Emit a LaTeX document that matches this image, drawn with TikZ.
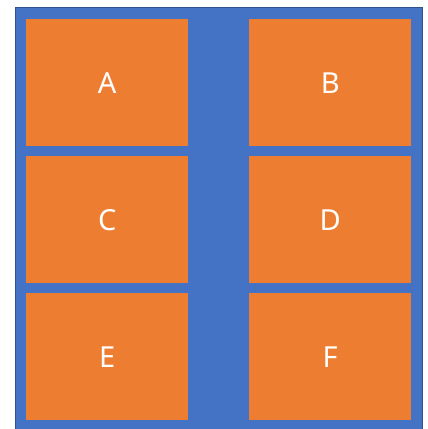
\documentclass[tikz,border=0pt]{standalone}
\usepackage{fontspec}
\setmainfont{Noto Sans}
\definecolor{bblue}{HTML}{4472C4}
\definecolor{bedge}{HTML}{2F528F}
\definecolor{oorange}{HTML}{ED7D31}
\begin{document}
\begin{tikzpicture}[x=1pt,y=-1pt,
  cell/.style={fill=oorange,draw=none,minimum width=162pt,minimum height=127pt,inner sep=0pt,anchor=north west,text=white,font=\fontsize{29}{34}\selectfont}]
\useasboundingbox (0,0) rectangle (428,429);
\fill[bblue,draw=bedge,line width=1.5pt] (15.5,7.5) rectangle (422.5,431);
\node[cell] (A) at (26,19) {A};
\node[cell] (B) at (249,19) {B};
\node[cell] (C) at (26,156) {C};
\node[cell] (D) at (249,156) {D};
\node[cell] (E) at (26,293) {E};
\node[cell] (F) at (249,293) {F};
\end{tikzpicture}
\end{document}
